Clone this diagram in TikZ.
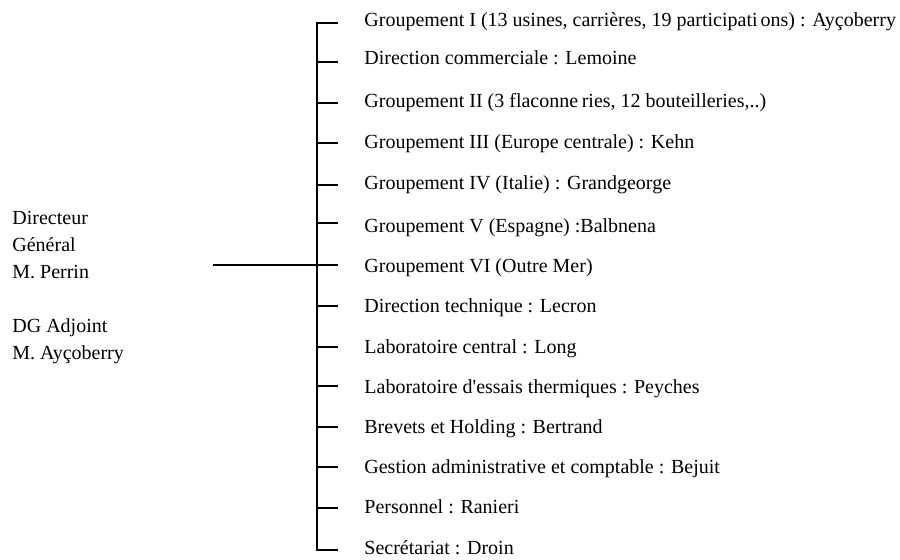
\documentclass[tikz,border=0pt]{standalone}
\usepackage{fontspec}
\setmainfont{Liberation Serif}[Ligatures=TeXOff]
\begin{document}
\begin{tikzpicture}[x=0.5pt,y=-0.5pt,
  lbl/.style={anchor=base west, inner sep=0pt, font=\fontsize{10}{12}\selectfont},
  conn/.style={line width=1pt}]
\useasboundingbox (0,0) rectangle (900,559);
\foreach \i/\ty/\by/\t in {
  1/22.7/26.7/{Groupement I (13 usines, carrières, 19 participati\kern1.5pt ons) : Ayçoberry},
  2/61.7/64.3/{Direction commerciale : Lemoine},
  3/102.7/107/{Groupement II (3 flaconne\kern1.8pt ries, 12 bouteilleries,..)},
  4/143.3/148/{Groupement III (Europe centrale) : Kehn},
  5/185/189.5/{Groupement IV (Italie) :  Grandgeorge},
  6/223.3/232/{Groupement V (Espagne) :Balbnena},
  7/265/272/{Groupement VI (Outre Mer)},
  8/306/312.5/{Direction technique : Lecron},
  9/346.7/353/{Laboratoire central : Long},
  10/386/393/{Laboratoire d'essais thermiques : Peyches},
  11/426.7/433/{Brevets et Holding : Bertrand},
  12/467.3/473/{Gestion administrative et comptable : Bejuit},
  13/508.3/513/{Personnel : Ranieri},
  14/550/554.5/{Secrétariat : Droin}} {
  \node[lbl] (e\i) at (364,\by) {\t};
  \coordinate (s\i) at (317,\ty);
  \coordinate (k\i) at (338,\ty);
  \draw[conn] (s\i) -- (k\i);
}
\draw[conn] ([yshift=0.5pt]s1) -- ([yshift=-0.5pt]s14);
\node[lbl] (d1) at (12,224) {Directeur};
\node[lbl] (d2) at (12,251) {Général};
\node[lbl] (d3) at (12,278) {M. Perrin};
\node[lbl] (d4) at (12,332) {DG Adjoint};
\node[lbl] (d5) at (12,359) {M. Ayçoberry};
\coordinate (h) at (213,265);
\draw[conn] (h) -- (s7);
\end{tikzpicture}
\end{document}
